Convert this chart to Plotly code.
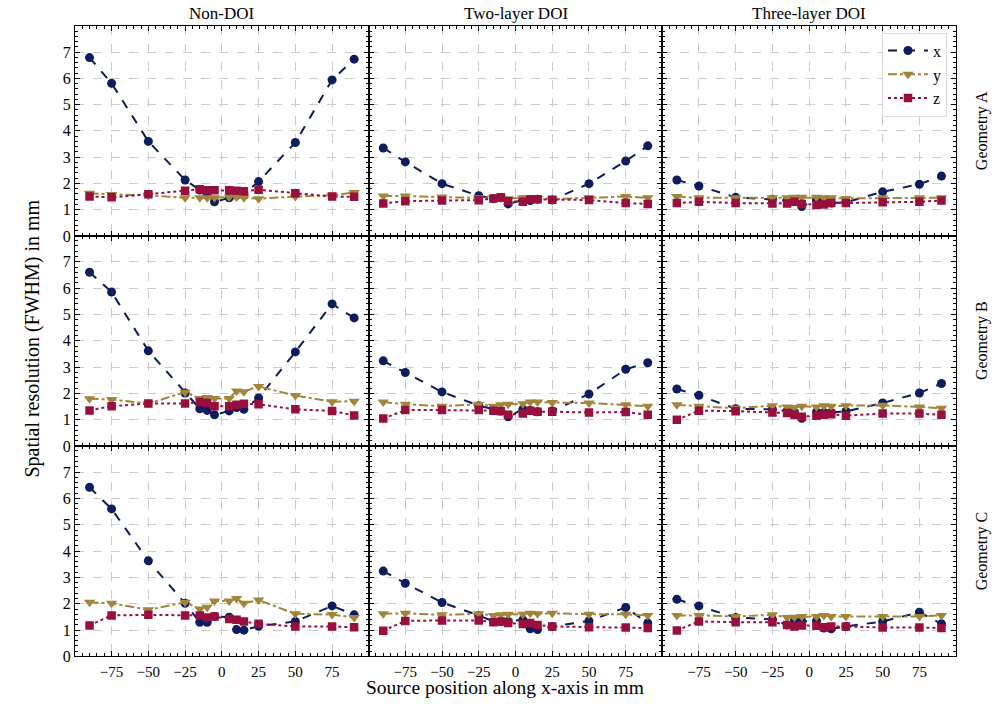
import plotly.graph_objects as go

# ---------------- data ----------------
source_positions = [-90, -75, -50, -25, -15, -10, -5, 5, 10, 15, 25, 50, 75, 90]
column_titles = ["Non-DOI", "Two-layer DOI", "Three-layer DOI"]
row_titles = ["Geometry A", "Geometry B", "Geometry C"]
series_names = ["x", "y", "z"]
x_tick_values = [-75, -50, -25, 0, 25, 50, 75]
y_tick_values = [0, 1, 2, 3, 4, 5, 6, 7]

# Geometry A
geoA_nondoi_x = [6.79, 5.81, 3.60, 2.13, 1.75, 1.60, 1.30, 1.45, 1.55, 1.60, 2.07, 3.56, 5.94, 6.73]
geoA_nondoi_y = [1.63, 1.58, 1.55, 1.45, 1.45, 1.45, 1.45, 1.48, 1.48, 1.45, 1.42, 1.50, 1.55, 1.65]
geoA_nondoi_z = [1.50, 1.47, 1.59, 1.72, 1.78, 1.74, 1.74, 1.74, 1.72, 1.70, 1.76, 1.63, 1.50, 1.49]
geoA_two_x = [3.35, 2.82, 1.99, 1.53, 1.42, 1.45, 1.22, 1.37, 1.35, 1.40, 1.37, 1.99, 2.85, 3.43]
geoA_two_y = [1.52, 1.52, 1.48, 1.45, 1.45, 1.45, 1.42, 1.45, 1.43, 1.43, 1.40, 1.45, 1.50, 1.45]
geoA_two_z = [1.24, 1.32, 1.35, 1.36, 1.43, 1.47, 1.32, 1.30, 1.40, 1.40, 1.38, 1.37, 1.25, 1.22]
geoA_three_x = [2.13, 1.90, 1.47, 1.40, 1.35, 1.30, 1.12, 1.38, 1.28, 1.25, 1.28, 1.68, 1.97, 2.28]
geoA_three_y = [1.50, 1.45, 1.45, 1.45, 1.45, 1.47, 1.47, 1.47, 1.45, 1.45, 1.43, 1.45, 1.45, 1.45]
geoA_three_z = [1.25, 1.30, 1.25, 1.24, 1.24, 1.30, 1.22, 1.18, 1.20, 1.25, 1.25, 1.28, 1.30, 1.35]

# Geometry B
geoB_nondoi_x = [6.60, 5.85, 3.62, 2.02, 1.42, 1.36, 1.19, 1.34, 1.47, 1.40, 1.83, 3.58, 5.40, 4.87]
geoB_nondoi_y = [1.80, 1.77, 1.62, 2.05, 1.81, 1.85, 1.81, 1.81, 2.10, 2.07, 2.27, 1.92, 1.69, 1.71]
geoB_nondoi_z = [1.36, 1.52, 1.62, 1.62, 1.68, 1.64, 1.52, 1.52, 1.57, 1.61, 1.59, 1.40, 1.34, 1.17]
geoB_two_x = [3.24, 2.80, 2.06, 1.54, 1.40, 1.34, 1.12, 1.40, 1.36, 1.31, 1.34, 1.98, 2.92, 3.17]
geoB_two_y = [1.68, 1.59, 1.52, 1.59, 1.52, 1.57, 1.59, 1.61, 1.68, 1.68, 1.66, 1.64, 1.57, 1.52]
geoB_two_z = [1.05, 1.37, 1.37, 1.37, 1.35, 1.33, 1.19, 1.24, 1.35, 1.31, 1.31, 1.28, 1.30, 1.19]
geoB_three_x = [2.17, 1.93, 1.42, 1.40, 1.34, 1.28, 1.06, 1.30, 1.28, 1.28, 1.32, 1.64, 2.02, 2.38]
geoB_three_y = [1.57, 1.52, 1.44, 1.54, 1.49, 1.47, 1.52, 1.49, 1.54, 1.52, 1.54, 1.55, 1.49, 1.44]
geoB_three_z = [1.00, 1.35, 1.33, 1.28, 1.26, 1.19, 1.12, 1.16, 1.19, 1.21, 1.16, 1.24, 1.24, 1.19]

# Geometry C
geoC_nondoi_x = [6.42, 5.60, 3.63, 2.02, 1.30, 1.30, 1.52, 1.49, 1.02, 1.00, 1.15, 1.33, 1.92, 1.58]
geoC_nondoi_y = [2.06, 2.02, 1.77, 2.06, 1.80, 1.87, 2.11, 2.11, 2.20, 2.02, 2.14, 1.62, 1.59, 1.48]
geoC_nondoi_z = [1.18, 1.56, 1.58, 1.56, 1.56, 1.48, 1.52, 1.42, 1.39, 1.33, 1.24, 1.14, 1.14, 1.11]
geoC_two_x = [3.24, 2.78, 2.05, 1.56, 1.33, 1.33, 1.33, 1.39, 1.05, 1.02, 1.14, 1.35, 1.86, 1.27]
geoC_two_y = [1.62, 1.64, 1.58, 1.62, 1.56, 1.58, 1.60, 1.60, 1.64, 1.62, 1.64, 1.60, 1.60, 1.56]
geoC_two_z = [0.98, 1.35, 1.37, 1.37, 1.30, 1.33, 1.27, 1.23, 1.27, 1.20, 1.14, 1.11, 1.10, 1.08]
geoC_three_x = [2.17, 1.92, 1.48, 1.41, 1.20, 1.35, 1.33, 1.35, 1.08, 1.05, 1.14, 1.33, 1.68, 1.24]
geoC_three_y = [1.56, 1.56, 1.52, 1.58, 1.48, 1.49, 1.52, 1.52, 1.56, 1.52, 1.52, 1.52, 1.52, 1.56]
geoC_three_z = [0.99, 1.33, 1.30, 1.30, 1.20, 1.14, 1.18, 1.17, 1.11, 1.14, 1.14, 1.10, 1.10, 1.08]

panels = [
    [(geoA_nondoi_x, geoA_nondoi_y, geoA_nondoi_z),
     (geoA_two_x, geoA_two_y, geoA_two_z),
     (geoA_three_x, geoA_three_y, geoA_three_z)],
    [(geoB_nondoi_x, geoB_nondoi_y, geoB_nondoi_z),
     (geoB_two_x, geoB_two_y, geoB_two_z),
     (geoB_three_x, geoB_three_y, geoB_three_z)],
    [(geoC_nondoi_x, geoC_nondoi_y, geoC_nondoi_z),
     (geoC_two_x, geoC_two_y, geoC_two_z),
     (geoC_three_x, geoC_three_y, geoC_three_z)],
]

# ---------------- styles ----------------
W, H = 1008, 704
FONT = "Liberation Serif"
colors = ["#0c1c5c", "#a0853a", "#980f3e"]
dashes = ["dash", "dashdot", "dot"]
symbols = ["circle", "triangle-down", "square"]
msizes = [9, 10, 8.5]

col_px = [75, 368.7, 662.3, 956]
row_px = [26.7, 239, 452, 665]
col_dom = [(col_px[i] / W, col_px[i + 1] / W) for i in range(3)]
row_dom = [(1 - row_px[i + 1] / H, 1 - row_px[i] / H) for i in range(3)]

fig = go.Figure()
layout = {}
for r in range(3):
    for c in range(3):
        k = r * 3 + c + 1
        xa = "x" if k == 1 else f"x{k}"
        ya = "y" if k == 1 else f"y{k}"
        for s in range(3):
            fig.add_trace(go.Scatter(
                x=source_positions, y=panels[r][c][s], name=series_names[s],
                mode="lines+markers", xaxis=xa, yaxis=ya,
                line=dict(color=colors[s], dash=dashes[s], width=2),
                marker=dict(symbol=symbols[s], size=msizes[s], color=colors[s]),
                showlegend=(k == 3), legendrank=s,
            ))
        axis_common = dict(
            showline=True, linecolor="black", linewidth=1, mirror="allticks",
            ticks="inside", ticklen=5, tickwidth=1, tickcolor="black",
            showgrid=True, gridcolor="#cccccc", griddash="dash", gridwidth=1,
            zeroline=False, tickfont=dict(family=FONT, size=16, color="black"),
        )
        layout["xaxis" if k == 1 else f"xaxis{k}"] = dict(
            axis_common, domain=col_dom[c], anchor=ya, range=[-99.9, 99.9],
            tickmode="array", tickvals=x_tick_values,
            tickfont=dict(family=FONT, size=15, color="black"),
            showticklabels=(r == 2), ticklabelstandoff=2,
            minor=dict(ticks="inside", ticklen=3, tickcolor="black",
                       tickmode="linear", tick0=0, dtick=5, showgrid=False),
            matches=None if k == 1 else "x",
        )
        layout["yaxis" if k == 1 else f"yaxis{k}"] = dict(
            axis_common, domain=row_dom[r], anchor=xa, range=[0, 7.98],
            tickmode="array", tickvals=y_tick_values,
            showticklabels=(c == 0),
            minor=dict(ticks="inside", ticklen=3, tickcolor="black",
                       tickmode="linear", tick0=0, dtick=0.2, showgrid=False),
        )

annotations = []
for c in range(3):
    annotations.append(dict(
        text=column_titles[c], xref="paper", yref="paper",
        x=(col_dom[c][0] + col_dom[c][1]) / 2, y=1 - 14 / H,
        showarrow=False, font=dict(family=FONT, size=17, color="black"),
        xanchor="center", yanchor="middle"))
for r in range(3):
    annotations.append(dict(
        text=row_titles[r], xref="paper", yref="paper",
        x=982 / W, y=(row_dom[r][0] + row_dom[r][1]) / 2, textangle=-90,
        showarrow=False, font=dict(family=FONT, size=16, color="black"),
        xanchor="center", yanchor="middle"))
annotations.append(dict(
    text="Spatial resolution (FWHM) in mm", xref="paper", yref="paper",
    x=33 / W, y=1 - 343 / H, textangle=-90, showarrow=False,
    font=dict(family=FONT, size=20, color="black"),
    xanchor="center", yanchor="middle"))
annotations.append(dict(
    text="Source position along x-axis in mm", xref="paper", yref="paper",
    x=505 / W, y=0, showarrow=False, borderpad=0, yshift=-4,
    font=dict(family=FONT, size=19.5, color="black"),
    xanchor="center", yanchor="bottom"))

fig.update_layout(
    **layout,
    width=W, height=H, autosize=False,
    margin=dict(l=0, r=0, t=0, b=0),
    paper_bgcolor="white", plot_bgcolor="white",
    font=dict(family=FONT, color="black"),
    annotations=annotations,
    legend=dict(
        x=882 / W, y=1 - 33 / H, xanchor="left", yanchor="top",
        bgcolor="white", bordercolor="#dddddd", borderwidth=1,
        font=dict(family=FONT, size=16, color="black"),
        traceorder="normal", itemwidth=40, tracegroupgap=0,
    ),
)

fig.write_html("out.html")
